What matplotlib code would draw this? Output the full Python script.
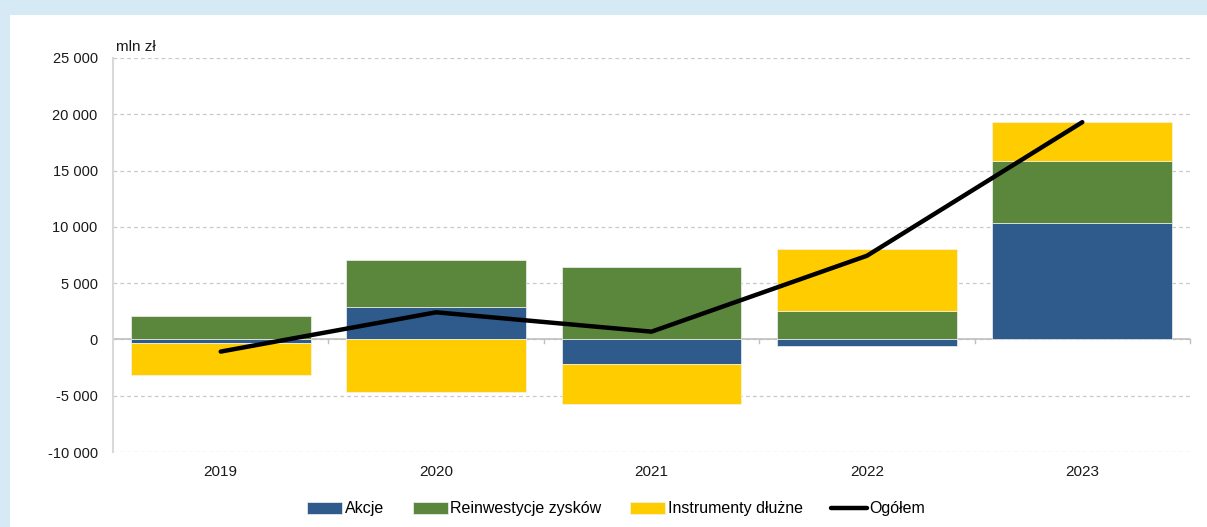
import matplotlib
matplotlib.use('Agg')
import matplotlib.pyplot as plt
from matplotlib.patches import Rectangle
from matplotlib.ticker import FuncFormatter

plt.rcParams['font.family'] = ['Liberation Sans', 'DejaVu Sans']

years = ['2019', '2020', '2021', '2022', '2023']
akcje = [-350, 2910, -2180, -550, 10320]
reinwestycje = [2040, 4150, 6440, 2560, 5510]
instrumenty = [-2780, -4660, -3550, 5450, 3460]
ogolem = [-1080, 2410, 690, 7430, 19300]

c_blue = '#2E5A8C'
c_green = '#5B873D'
c_yellow = '#FFCC00'

W, H = 1207, 527
fig = plt.figure(figsize=(W / 100, H / 100), dpi=100)
fig.patch.set_facecolor('#D6EAF5')
fig.patches.append(Rectangle((10 / W, 0), 1 - 10 / W, 1 - 15 / H,
                             transform=fig.transFigure, facecolor='white',
                             edgecolor='none', zorder=-5))

ax = fig.add_axes([113 / W, 1 - 452 / H, (1190 - 113) / W, (452 - 58) / H])
ax.set_facecolor('none')

x = list(range(len(years)))
width = 0.835

# stack positives upward and negatives downward from zero
pos = [0.0] * len(years)
neg = [0.0] * len(years)
for vals, col, lab in [(akcje, c_blue, 'Akcje'),
                       (reinwestycje, c_green, 'Reinwestycje zysków'),
                       (instrumenty, c_yellow, 'Instrumenty dłużne')]:
    bottoms = []
    for i, v in enumerate(vals):
        if v >= 0:
            bottoms.append(pos[i])
            pos[i] += v
        else:
            bottoms.append(neg[i])
            neg[i] += v
    ax.bar(x, vals, width, bottom=bottoms, color=col, label=lab,
           edgecolor='#F2F2F2', linewidth=0.5, zorder=3)

ax.plot(x, ogolem, color='black', linewidth=3.2, solid_capstyle='round',
        label='Ogółem', zorder=4)

ax.set_xlim(-0.5, len(years) - 0.5)
ax.set_ylim(-10000, 25000)
ax.set_yticks(range(-10000, 25001, 5000))
ax.yaxis.set_major_formatter(FuncFormatter(lambda v, p: f'{int(v):,}'.replace(',', ' ')))
ax.grid(axis='y', color='#C8C8C8', linestyle=(0, (3, 2.5)), linewidth=0.9, zorder=0)
ax.axhline(0, color='#BFBFBF', linewidth=1.2, zorder=2)

for s in ['top', 'right', 'bottom']:
    ax.spines[s].set_visible(False)
ax.spines['left'].set_color('#D9D9D9')
ax.spines['left'].set_linewidth(1.5)

ax.tick_params(axis='y', length=0, pad=11, labelsize=10.5, colors='#1A1A1A')
ax.set_xticks(x)
ax.set_xticklabels(years)
ax.tick_params(axis='x', length=0, pad=9, labelsize=11, colors='#1A1A1A')

# small tick marks on the zero line between categories
for b in [i + 0.5 for i in range(len(years))]:
    ax.plot([b, b], [0, -350], color='#BFBFBF', linewidth=1, zorder=2, clip_on=False)

ax.text(3 / (1190 - 113), 1.01, 'mln zł', transform=ax.transAxes, fontsize=11,
        ha='left', va='bottom', color='#1A1A1A')

handles, labels = ax.get_legend_handles_labels()
order = [1, 2, 3, 0]
fig.legend([handles[i] for i in order], [labels[i] for i in order],
           loc='center', bbox_to_anchor=(616 / W, 1 - 509 / H), ncol=4,
           frameon=False, fontsize=11.5, handlelength=2.2, handleheight=0.8,
           handletextpad=0.15, columnspacing=1.8)

fig.savefig('out.png', dpi=100)
